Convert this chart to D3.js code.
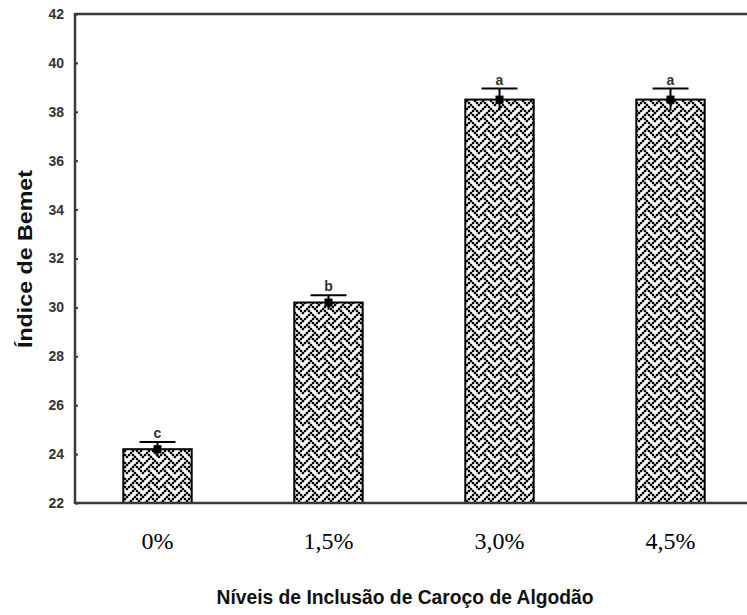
<!DOCTYPE html>
<html>
<head>
<meta charset="utf-8">
<script src="https://cdn.jsdelivr.net/npm/d3@7"></script>
<style>
  body { margin: 0; background: #fff; }
</style>
</head>
<body>
<div id="chart"></div>
<script>
var categories = ["0%", "1,5%", "3,0%", "4,5%"];
var means = [24.2, 30.2, 38.5, 38.5];
var errors = [0.3, 0.3, 0.45, 0.45];
var letters = ["c", "b", "a", "a"];
var yTicks = [22, 24, 26, 28, 30, 32, 34, 36, 38, 40, 42];

var width = 747, height = 615;
var margin = {top: 14, left: 75, bottom: 503};

var svg = d3.select("#chart").append("svg")
    .attr("width", width)
    .attr("height", height);

// weave fill, built from an 8x8 bitmap scaled up
var weaveBits = [0x11, 0x2a, 0x44, 0xa2, 0x11, 0x28, 0x44, 0x8a];
var cell = 2.0, grow = 0.35, tile = cell * 8;
var pat = svg.append("defs").append("pattern")
    .attr("id", "weave")
    .attr("patternUnits", "userSpaceOnUse")
    .attr("width", tile)
    .attr("height", tile);
pat.append("rect").attr("width", tile).attr("height", tile).attr("fill", "#fff");
var px = [];
weaveBits.forEach(function(b, r) {
  for (var c = 0; c < 8; c++) {
    if (b & (128 >> c)) {
      [-1, 0, 1].forEach(function(ox) {
        [-1, 0, 1].forEach(function(oy) {
          px.push([c * cell + ox * tile, r * cell + oy * tile]);
        });
      });
    }
  }
});
pat.selectAll(".px").data(px).enter().append("rect")
    .attr("x", function(d) { return d[0] - grow / 2; })
    .attr("y", function(d) { return d[1] - grow / 2; })
    .attr("width", cell + grow)
    .attr("height", cell + grow)
    .attr("fill", "#000");

var x = d3.scaleBand()
    .domain(categories)
    .range([72, 756])
    .paddingInner(0.6)
    .paddingOuter(0.3);

var y = d3.scaleLinear()
    .domain([22, 42])
    .range([margin.bottom, margin.top]);

// bars
svg.selectAll(".bar")
    .data(categories)
    .enter().append("rect")
    .attr("class", "bar")
    .attr("x", function(d) { return x(d); })
    .attr("y", function(d, i) { return y(means[i]); })
    .attr("width", x.bandwidth())
    .attr("height", function(d, i) { return y(22) - y(means[i]); })
    .attr("fill", "url(#weave)")
    .attr("stroke", "#000")
    .attr("stroke-width", 2);

// error bars
var eb = svg.selectAll(".err")
    .data(categories)
    .enter().append("g")
    .attr("class", "err")
    .attr("transform", function(d) { return "translate(" + (x(d) + x.bandwidth() / 2) + ",0)"; });

eb.append("line")
    .attr("y1", function(d, i) { return y(means[i] + errors[i]); })
    .attr("y2", function(d, i) { return y(means[i] - errors[i]); })
    .attr("stroke", "#000")
    .attr("stroke-width", 2);

eb.append("line")
    .attr("x1", -18).attr("x2", 18)
    .attr("y1", function(d, i) { return y(means[i] + errors[i]); })
    .attr("y2", function(d, i) { return y(means[i] + errors[i]); })
    .attr("stroke", "#000")
    .attr("stroke-width", 2);

eb.append("rect")
    .attr("x", -4).attr("width", 8).attr("height", 8)
    .attr("y", function(d, i) { return y(means[i]) - 4; })
    .attr("fill", "#000");

eb.append("text")
    .attr("y", function(d, i) { return y(means[i] + errors[i]) - 4; })
    .attr("text-anchor", "middle")
    .attr("font-family", "Arial, 'Liberation Sans', sans-serif")
    .attr("font-weight", "bold")
    .attr("font-size", 14)
    .attr("fill", "#333")
    .text(function(d, i) { return letters[i]; });

// axes
var yAxis = svg.append("g")
    .attr("transform", "translate(" + margin.left + ",0)")
    .call(d3.axisLeft(y).tickValues(yTicks).tickSize(-3).tickPadding(11));
yAxis.select(".domain").remove();
yAxis.selectAll(".tick line").attr("stroke", "#333").attr("stroke-width", 2);
yAxis.selectAll("text")
    .attr("font-family", "Arial, 'Liberation Sans', sans-serif")
    .attr("font-weight", "bold")
    .attr("font-size", 14)
    .attr("fill", "#333");

var frame = svg.append("g").attr("stroke", "#3a3a3a").attr("stroke-width", 2.5).attr("fill", "none");
frame.append("line").attr("x1", margin.left).attr("x2", width).attr("y1", margin.top).attr("y2", margin.top);
frame.append("line").attr("x1", margin.left).attr("x2", width).attr("y1", margin.bottom).attr("y2", margin.bottom);
frame.append("line").attr("x1", margin.left).attr("x2", margin.left).attr("y1", margin.top - 1).attr("y2", margin.bottom + 1);

var xAxis = svg.append("g")
    .attr("transform", "translate(0," + margin.bottom + ")")
    .call(d3.axisBottom(x).tickSize(0).tickPadding(29));
xAxis.select(".domain").remove();
xAxis.selectAll("text")
    .attr("font-family", "'Times New Roman', 'Liberation Serif', serif")
    .attr("font-size", 24)
    .attr("fill", "#000");

// titles
svg.append("text")
    .attr("x", 405)
    .attr("y", 604)
    .attr("text-anchor", "middle")
    .attr("font-family", "Arial, 'Liberation Sans', sans-serif")
    .attr("font-weight", "bold")
    .attr("font-size", 21)
    .attr("textLength", 377)
    .attr("lengthAdjust", "spacingAndGlyphs")
    .attr("fill", "#111")
    .text("Níveis de Inclusão de Caroço de Algodão");

svg.append("text")
    .attr("transform", "translate(32,259) rotate(-90)")
    .attr("text-anchor", "middle")
    .attr("font-family", "Arial, 'Liberation Sans', sans-serif")
    .attr("font-weight", "bold")
    .attr("font-size", 20)
    .attr("textLength", 178)
    .attr("lengthAdjust", "spacingAndGlyphs")
    .attr("fill", "#111")
    .text("Índice de Bemet");
</script>
</body>
</html>
